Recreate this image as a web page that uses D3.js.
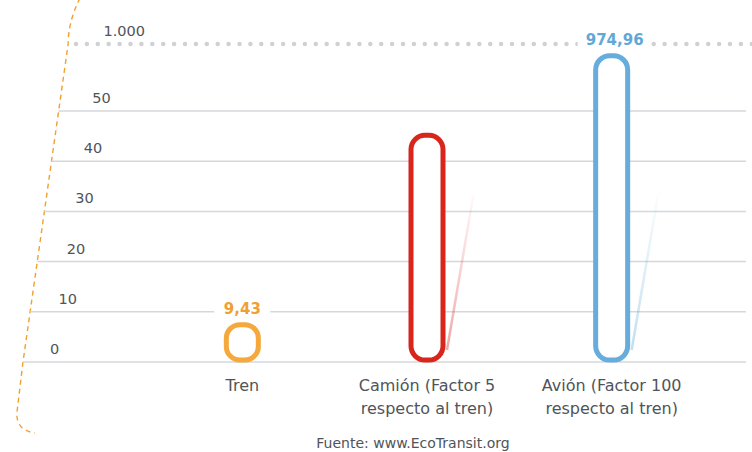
<!DOCTYPE html>
<html>
<head>
<meta charset="utf-8">
<script src="https://cdn.jsdelivr.net/npm/d3@7"></script>
<style>
  body { margin: 0; background: #fff; }
  svg { display: block; font-family: 'DejaVu Sans', sans-serif; }
</style>
</head>
<body>
<div id="chart-container"></div>
<script>
const categories = ['Tren', 'Camión (Factor 5|respecto al tren)', 'Avión (Factor 100|respecto al tren)'];
const values = [9.43, 47.15, 974.96];
const valueLabels = ['9,43', '', '974,96'];
const colors = ['#f5a83c', '#d9261c', '#66acdc'];
const labelColors = ['#f0a030', '#d9261c', '#5fa8d8'];
const ticks = [0, 10, 20, 30, 40, 50];
const tickLabels = ['0', '10', '20', '30', '40', '50'];
const topTick = 1000;
const topTickLabel = '1.000';
const source = 'Fuente: www.EcoTransit.org';

const width = 752,
  height = 452;

const svg = d3.select('#chart-container')
  .append('svg')
  .attr('width', width)
  .attr('height', height);

// broken y axis: 0-50 linear, then squeezed up to 1000
const yScale = d3.scaleLinear()
  .domain([0, 50, topTick])
  .range([362, 111, 44]);

const xScale = d3.scaleBand()
  .domain(categories)
  .range([150, 704])
  .padding(0);

// slanted left edge where the gridlines start
const slantX = y => 23 + (362 - y) * 0.142;
const labelX = y => 50 + (362 - y) * 0.168;

// gradients for the faint streaks
const defs = svg.append('defs');
colors.forEach((c, i) => {
  const g = defs.append('linearGradient')
    .attr('id', 'streak' + i)
    .attr('gradientUnits', 'userSpaceOnUse')
    .attr('x1', 0).attr('x2', 0).attr('y1', 350).attr('y2', 185);
  g.append('stop').attr('offset', '0%').attr('stop-color', c).attr('stop-opacity', 0.4);
  g.append('stop').attr('offset', '100%').attr('stop-color', c).attr('stop-opacity', 0);
});

// dashed orange bracket on the left
svg.append('path')
  .attr('d', `M80,-2 C72,14 68,30 ${slantX(44)},44 L${slantX(362)},362 L17,412 C16,424 22,431 35,433`)
  .attr('fill', 'none')
  .attr('stroke', '#f0a030')
  .attr('stroke-width', 1.4)
  .attr('stroke-dasharray', '5,4');

// solid gridlines
svg.append('g')
  .selectAll('line')
  .data(ticks)
  .join('line')
  .attr('x1', d => slantX(yScale(d)))
  .attr('x2', 746)
  .attr('y1', d => yScale(d))
  .attr('y2', d => yScale(d))
  .attr('stroke', '#d4d7db')
  .attr('stroke-width', 1.5);

// dotted 1.000 line
svg.append('line')
  .attr('x1', 76)
  .attr('x2', 752)
  .attr('y1', yScale(topTick))
  .attr('y2', yScale(topTick))
  .attr('stroke', '#cfd1d4')
  .attr('stroke-width', 4.5)
  .attr('stroke-linecap', 'round')
  .attr('stroke-dasharray', '0,10.9');

// tick labels
svg.append('g')
  .selectAll('text')
  .data(ticks.map((t, i) => [t, tickLabels[i]]).concat([[topTick, topTickLabel]]))
  .join('text')
  .attr('x', d => labelX(yScale(d[0])))
  .attr('y', d => yScale(d[0]) - 8)
  .attr('font-size', 14.5)
  .attr('fill', '#505459')
  .text(d => d[1]);

// faint streaks beside the bars
svg.append('g')
  .selectAll('line')
  .data(values.slice(1))
  .join('line')
  .attr('x1', (d, i) => xScale(categories[i + 1]) + xScale.bandwidth() / 2 + 20)
  .attr('y1', 350)
  .attr('x2', (d, i) => xScale(categories[i + 1]) + xScale.bandwidth() / 2 + 20 + (350 - Math.max(yScale(d) + 70, 180)) * 0.17)
  .attr('y2', d => Math.max(yScale(d) + 70, 180))
  .attr('stroke', (d, i) => `url(#streak${i + 1})`)
  .attr('stroke-width', 2.5);

// bars: rounded outlines
const barW = 32;
svg.append('g')
  .selectAll('rect')
  .data(values)
  .join('rect')
  .attr('x', (d, i) => xScale(categories[i]) + xScale.bandwidth() / 2 - barW / 2)
  .attr('y', d => yScale(d) + 10)
  .attr('width', barW)
  .attr('height', d => 360 - yScale(d) - 10)
  .attr('rx', d => Math.min(14, (360 - yScale(d) - 10) / 2.6))
  .attr('fill', '#fff')
  .attr('stroke', (d, i) => colors[i])
  .attr('stroke-width', 5);

// value labels with white knockout
const vl = svg.append('g')
  .selectAll('g')
  .data(values)
  .join('g')
  .attr('transform', (d, i) => `translate(${xScale(categories[i]) + xScale.bandwidth() / 2},${yScale(d)})`);
vl.append('rect')
  .attr('x', (d, i) => i === 2 ? -34 : -28)
  .attr('y', -10)
  .attr('width', (d, i) => i === 2 ? 72 : 56)
  .attr('height', 16)
  .attr('fill', '#fff');
vl.append('text')
  .attr('text-anchor', 'middle')
  .attr('x', (d, i) => i === 2 ? 3 : 0)
  .attr('y', -1)
  .attr('font-size', 15)
  .attr('font-weight', 'bold')
  .attr('fill', (d, i) => labelColors[i])
  .text((d, i) => valueLabels[i]);

// category labels
const cat = svg.append('g')
  .selectAll('text')
  .data(categories)
  .join('text')
  .attr('x', d => xScale(d) + xScale.bandwidth() / 2)
  .attr('y', 391)
  .attr('text-anchor', 'middle')
  .attr('font-size', 16)
  .attr('fill', '#505459');
cat.selectAll('tspan')
  .data(d => d.split('|'))
  .join('tspan')
  .attr('x', function() { return d3.select(this.parentNode).attr('x'); })
  .attr('dy', (d, i) => i === 0 ? 0 : 23)
  .text(d => d);

svg.append('text')
  .attr('x', 413)
  .attr('y', 448)
  .attr('text-anchor', 'middle')
  .attr('font-size', 14)
  .attr('fill', '#505459')
  .text(source);
</script>
</body>
</html>
